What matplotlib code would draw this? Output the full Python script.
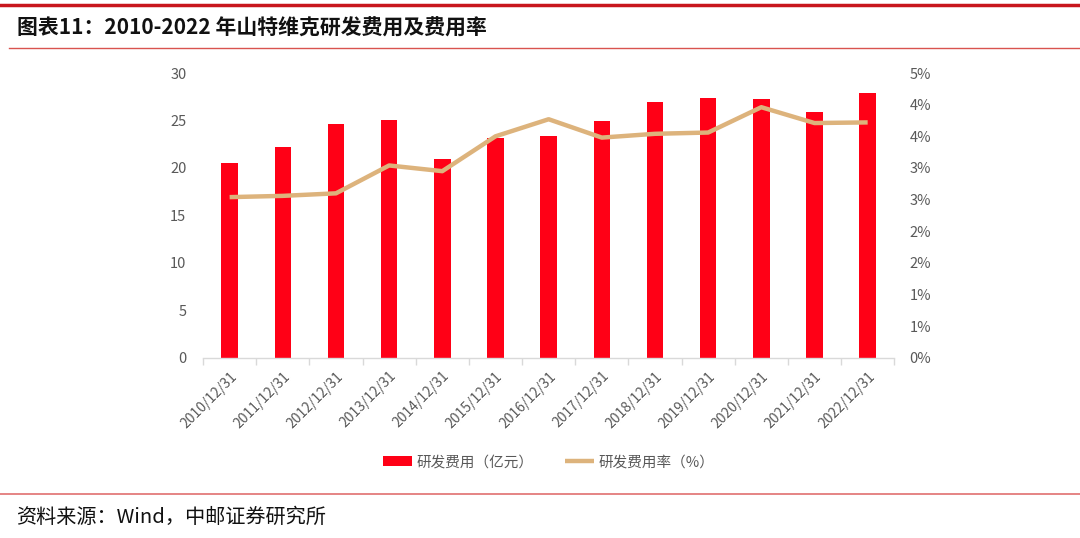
import matplotlib
matplotlib.use("Agg")
import matplotlib.pyplot as plt
import numpy as np
from matplotlib.ticker import FixedLocator, FuncFormatter

plt.rcParams['font.family'] = ['Noto Sans CJK SC', 'DejaVu Sans']

categories = ["2010/12/31", "2011/12/31", "2012/12/31", "2013/12/31", "2014/12/31",
              "2015/12/31", "2016/12/31", "2017/12/31", "2018/12/31", "2019/12/31",
              "2020/12/31", "2021/12/31", "2022/12/31"]
rd_expense = [20.5, 22.2, 24.6, 25.1, 21.0, 23.2, 23.4, 25.0, 26.9, 27.4, 27.3, 25.9, 27.9]
rd_ratio = [2.54, 2.56, 2.60, 3.04, 2.95, 3.50, 3.77, 3.48, 3.54, 3.56, 3.96, 3.71, 3.72]
left_ticks = [0, 5, 10, 15, 20, 25, 30]
right_ticks = [0, 0.5, 1.0, 1.5, 2.0, 2.5, 3.0, 3.5, 4.0, 4.5]
title = "图表11：2010-2022 年山特维克研发费用及费用率"
source = "资料来源：Wind，中邮证券研究所"
bar_label = "研发费用（亿元）"
line_label = "研发费用率（%）"

BAR_C = "#FF0016"
LINE_C = "#DDB37C"
TXT_C = "#595959"

fig = plt.figure(figsize=(10.8, 5.38), dpi=100)
ax = fig.add_axes([0.188, 0.3346, 0.640, 0.5297])
ax2 = ax.twinx()

x = np.arange(len(categories))
bars = ax.bar(x, rd_expense, width=0.31, color=BAR_C, label=bar_label, zorder=2)
line, = ax2.plot(x, rd_ratio, color=LINE_C, lw=3.2, label=line_label, solid_capstyle='butt', zorder=3)

ax.set_xlim(-0.5, len(categories) - 0.5)
ax.set_ylim(0, 30)
ax2.set_ylim(0, 4.5)
ax.set_yticks(left_ticks)
ax2.set_yticks(right_ticks)
ax2.yaxis.set_major_formatter(FuncFormatter(lambda v, p: f"{int(np.floor(v + 0.5))}%"))

ax.set_xticks(x)
ax.set_xticklabels(categories, rotation=45, ha='right', rotation_mode='anchor',
                   fontsize=10, color=TXT_C)
ax.tick_params(axis='x', which='major', length=0, pad=8)
ax.xaxis.set_minor_locator(FixedLocator(np.arange(-0.5, len(categories), 1.0)))
ax.tick_params(axis='x', which='minor', length=5, color="#D9D9D9", width=1)
ax.tick_params(axis='y', length=0, labelsize=10.5, labelcolor=TXT_C, pad=12)
ax2.tick_params(axis='y', length=0, labelsize=10.5, labelcolor=TXT_C, pad=11)

for a in (ax, ax2):
    for s in ('top', 'left', 'right', 'bottom'):
        a.spines[s].set_visible(False)
ax.spines['bottom'].set_visible(True)
ax.spines['bottom'].set_color("#D9D9D9")
ax.spines['bottom'].set_linewidth(1)

leg = fig.legend(handles=[bars, line], labels=[bar_label, line_label], loc='center',
                 bbox_to_anchor=(0.508, 0.141), ncol=2, frameon=False, fontsize=10.5,
                 handlelength=2.0, handletextpad=0.3, columnspacing=2.2)
for t in leg.get_texts():
    t.set_color(TXT_C)

# title and decorative lines
fig.add_artist(plt.Line2D([0, 1], [1 - 5 / 538, 1 - 5 / 538], color="#C8161D", lw=2.5))
fig.add_artist(plt.Line2D([0.008, 1], [1 - 47.5 / 538, 1 - 47.5 / 538], color="#D9534F", lw=1.0))
fig.add_artist(plt.Line2D([0, 1], [1 - 494 / 538, 1 - 494 / 538], color="#E07070", lw=1.2))
fig.text(0.016, 1 - 28 / 538, title, fontsize=15, fontweight='bold', va='center', ha='left', color="#111111")
fig.text(0.015, 1 - 517 / 538, source, fontsize=14.5, va='center', ha='left', color="#111111")

fig.savefig("out.png", dpi=100)
